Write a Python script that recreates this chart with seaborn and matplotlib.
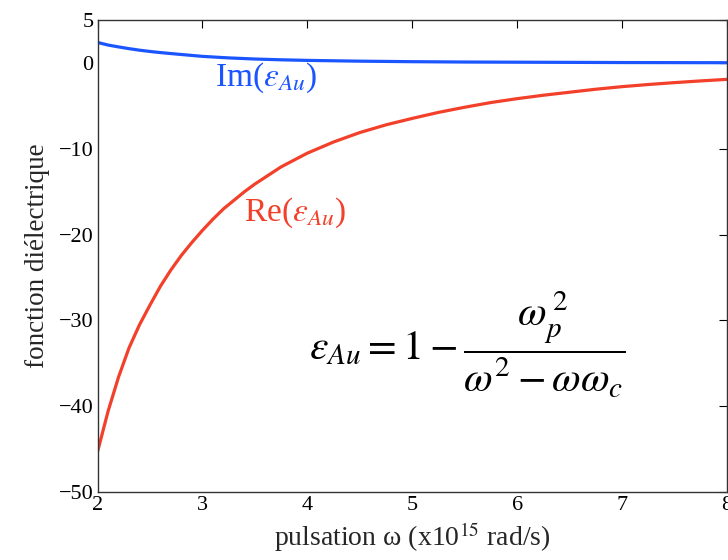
import matplotlib
matplotlib.use("Agg")
import matplotlib.pyplot as plt
import seaborn as sns
import pandas as pd

# Pulsation (x1e15 rad/s) and the dielectric function of gold
omega_re = [2.0, 2.1, 2.2, 2.3, 2.4, 2.5, 2.6, 2.7, 2.8, 2.9, 3.0, 3.1, 3.2,
            3.3, 3.4, 3.5, 3.75, 4.0, 4.25, 4.5, 4.75, 5.0, 5.25, 5.5, 5.75,
            6.0, 6.25, 6.5, 6.75, 7.0, 7.25, 7.5, 7.75, 8.0]
eps_re = [-45.3, -40.6, -36.6, -33.2, -30.5, -28.2, -26.0, -24.1, -22.4,
          -20.9, -19.5, -18.2, -17.0, -16.0, -15.0, -14.1, -12.1, -10.5,
          -9.2, -8.1, -7.2, -6.45, -5.75, -5.15, -4.6, -4.15, -3.75, -3.4,
          -3.05, -2.75, -2.5, -2.28, -2.08, -1.9]

omega_im = [2.0, 2.1, 2.2, 2.3, 2.4, 2.5, 2.6, 2.75, 3.0, 3.25, 3.5, 3.75,
            4.0, 4.5, 5.0, 5.5, 6.0, 6.5, 7.0, 7.5, 8.0]
eps_im = [2.4, 2.1, 1.88, 1.68, 1.5, 1.35, 1.22, 1.05, 0.78, 0.6, 0.47, 0.38,
          0.31, 0.22, 0.16, 0.12, 0.1, 0.08, 0.06, 0.05, 0.04]

x_ticks = [2, 3, 4, 5, 6, 7, 8]
y_ticks = [5, 0, -10, -20, -30, -40, -50]

sns.set_theme(style="white")
plt.rcParams["font.family"] = ["Liberation Serif", "DejaVu Serif"]
plt.rcParams["mathtext.fontset"] = "stix"

re_df = pd.DataFrame({"omega": omega_re, "eps": eps_re})
im_df = pd.DataFrame({"omega": omega_im, "eps": eps_im})

fig = plt.figure(figsize=(7.28, 5.6), dpi=100)
ax = fig.add_axes([0.134, 0.1214, 0.8646, 0.8426])

blue = "#1a55ff"
red = "#f2402a"
sns.lineplot(data=re_df, x="omega", y="eps", ax=ax, color=red, lw=2.3)
sns.lineplot(data=im_df, x="omega", y="eps", ax=ax, color=blue, lw=2.3)

ax.set_xlim(2, 8)
ax.set_ylim(-50, 5)
ax.set_xticks(x_ticks)
ax.set_yticks(y_ticks)
ax.tick_params(direction="in", length=6, width=0.8, top=True, right=True,
               labelsize=16, colors="black", pad=3)
for s in ax.spines.values():
    s.set_color("#333333")
    s.set_linewidth(1.0)

ax.set_xlabel(r"pulsation ω (x10$^{15}$ rad/s)", fontsize=20, labelpad=4)
ax.set_ylabel("fonction diélectrique", fontsize=19.5, labelpad=6)

ax.text(3.12, -1.75, r"Im($\varepsilon_{Au}$)", color=blue, fontsize=24,
        va="center", ha="left")
ax.text(3.40, -17.5, r"Re($\varepsilon_{Au}$)", color=red, fontsize=24,
        va="center", ha="left")
ax.text(4.02, -32.9,
        r"$\varepsilon_{Au} = 1 - \dfrac{\omega_{p}^{\,2}}{\omega^{2} - \omega\omega_{c}}$",
        color="black", fontsize=30, va="center", ha="left")

fig.savefig("out.png", dpi=100)
